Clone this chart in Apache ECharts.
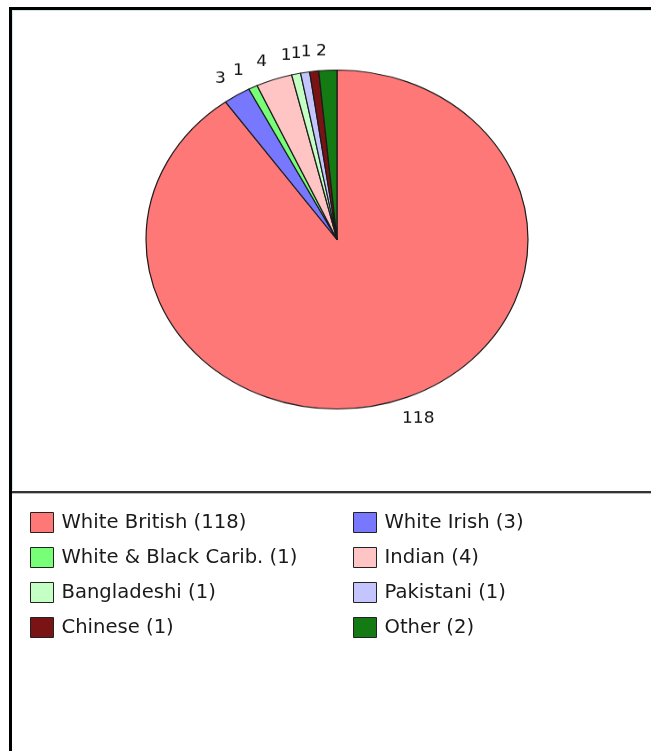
<!DOCTYPE html>
<html>
<head>
<meta charset="utf-8">
<script src="https://cdn.jsdelivr.net/npm/echarts@6/dist/echarts.min.js"></script>
<style>
  html, body { margin: 0; padding: 0; background: #fff; }
  #page { position: relative; width: 651px; height: 751px; overflow: hidden; background: #fff; }
  #pie {
    position: absolute; left: 0; top: 0; width: 651px; height: 490px;
    /* the pie is drawn as an ellipse: wider than it is tall */
    transform: scaleY(0.8874); transform-origin: 337px 239.5px;
  }
  #legend { position: absolute; left: 0; top: 493px; width: 651px; height: 258px; }
  .rule { position: absolute; }
</style>
</head>
<body>
<div id="page">
  <div id="pie"></div>
  <div id="legend"></div>
  <!-- panel frame -->
  <div class="rule" style="left:9px;top:7px;width:642px;height:3px;background:#000"></div>
  <div class="rule" style="left:9px;top:7px;width:3px;height:744px;background:#000"></div>
  <div class="rule" style="left:12px;top:10px;width:639px;height:1px;background:#cfe9ee"></div>
  <div class="rule" style="left:12px;top:10px;width:1px;height:480px;background:#cfe9ee"></div>
  <div class="rule" style="left:12px;top:491px;width:639px;height:2px;background:#333"></div>
  <div class="rule" style="left:12px;top:493px;width:639px;height:1px;background:#bbb"></div>
</div>
<script>
// Ethnic group counts
const groups = ['White British', 'White Irish', 'White & Black Carib.', 'Indian',
                'Bangladeshi', 'Pakistani', 'Chinese', 'Other'];
const counts = [118, 3, 1, 4, 1, 1, 1, 2];
const colours = ['#ff7878', '#7878ff', '#78ff78', '#ffc4c4',
                 '#c4ffc4', '#c4c4ff', '#7a1414', '#147a14'];

const pieData = groups.map((g, i) => ({
  name: g, value: counts[i], itemStyle: { color: colours[i] }
}));

const FONT = 'DejaVu Sans';

// Pie with its value labels
const pieChart = echarts.init(document.getElementById('pie'), null, { renderer: 'canvas' });
pieChart.setOption({
  animation: false,
  series: [{
    type: 'pie',
    center: [337, 239.5],
    radius: 191,
    startAngle: 90,
    clockwise: true,
    avoidLabelOverlap: false,
    silent: true,
    itemStyle: { borderColor: '#1a1a1a', borderWidth: 1.2 },
    label: {
      show: true, position: 'outside', formatter: '{c}',
      color: '#111', fontFamily: FONT, fontSize: 17,
      distanceToLabelLine: 0
    },
    labelLine: { show: false, length: 21, length2: 0 },
    labelLayout: { hideOverlap: false },
    data: pieData
  }]
});

// Two-column legend below the pie
const leftCol = groups.filter((_, i) => i % 2 === 0);
const rightCol = groups.filter((_, i) => i % 2 === 1);
const legendBase = {
  orient: 'vertical',
  top: 19,
  padding: 0,
  icon: 'rect',
  itemWidth: 23,
  itemHeight: 20,
  itemGap: 14,
  selectedMode: false,
  itemStyle: { borderColor: '#222', borderWidth: 1 },
  textStyle: { fontFamily: FONT, fontSize: 19.6, lineHeight: 20, color: '#1a1a1a', padding: [0, 0, 0, 3] },
  formatter: name => name + ' (' + counts[groups.indexOf(name)] + ')'
};
const legendChart = echarts.init(document.getElementById('legend'), null, { renderer: 'canvas' });
legendChart.setOption({
  animation: false,
  legend: [
    Object.assign({}, legendBase, { left: 30, data: leftCol }),
    Object.assign({}, legendBase, { left: 353, data: rightCol })
  ],
  series: [{
    type: 'pie',
    radius: 0,
    silent: true,
    label: { show: false },
    labelLine: { show: false },
    data: pieData
  }]
});
</script>
</body>
</html>
